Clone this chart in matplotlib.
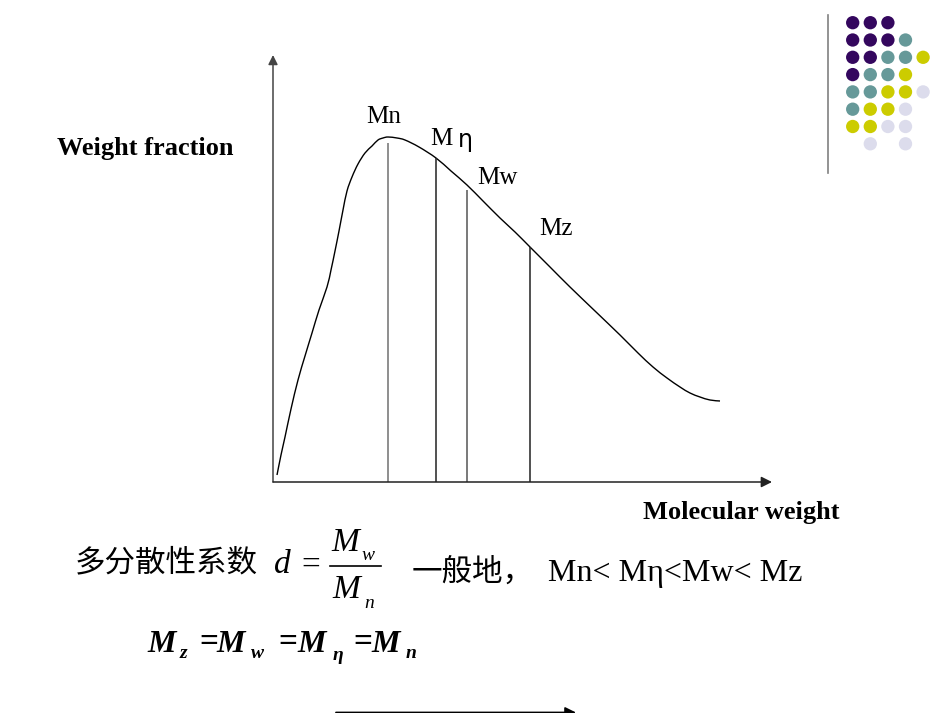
import numpy as np
import matplotlib.pyplot as plt
from matplotlib.path import Path
from matplotlib.patches import PathPatch

# distribution curve (x: molecular weight, y: weight fraction; arbitrary units)
mw = [4, 8, 12, 18, 25, 32, 39, 46, 54, 58, 62, 66, 70, 74, 79, 85, 92, 99, 105, 110, 115,
      124, 132, 146, 163, 178, 194, 210, 227, 242, 257, 277, 297, 322, 347, 365, 380, 394,
      407, 417, 427, 437, 447]
wf = [7, 27, 45, 73, 102, 126, 149, 172, 195, 212, 231, 251, 272, 291, 305, 318, 329, 336,
      342, 344, 345, 344, 342, 335, 324, 311, 297, 281, 264, 250, 235, 215, 195, 171, 147,
      129, 115, 104, 95, 89, 85, 82, 81]

# average molecular weights marked on the curve
avg_labels = ['Mn', 'M η', 'Mw', 'Mz']
avg_x = [115, 163, 194, 257]
avg_top = [339, 324, 292, 235]

# decorative dot grid (row, col, colour key)
dot_rows = [0, 0, 0,
            1, 1, 1, 1,
            2, 2, 2, 2, 2,
            3, 3, 3, 3,
            4, 4, 4, 4, 4,
            5, 5, 5, 5,
            6, 6, 6, 6,
            7, 7]
dot_cols = [0, 1, 2,
            0, 1, 2, 3,
            0, 1, 2, 3, 4,
            0, 1, 2, 3,
            0, 1, 2, 3, 4,
            0, 1, 2, 3,
            0, 1, 2, 3,
            1, 3]
dot_keys = 'PPP' 'PPPT' 'PPTTY' 'PTTY' 'TTYYL' 'TYYL' 'YYLL' 'LL'
dot_colors = {'P': '#34075e', 'T': '#669999', 'Y': '#cccc00', 'L': '#dcdcec'}

serif = 'Liberation Serif'
cjk = ['Noto Sans CJK SC', 'DejaVu Sans']


def smooth_path(xs, ys):
    # Catmull-Rom through the read points, drawn as cubic Bezier segments
    p = np.column_stack([xs, ys]).astype(float)
    verts = [p[0]]
    codes = [Path.MOVETO]
    for i in range(len(p) - 1):
        p0 = p[i - 1] if i > 0 else p[i]
        p3 = p[i + 2] if i + 2 < len(p) else p[i + 1]
        c1 = p[i] + (p[i + 1] - p0) / 6
        c2 = p[i + 1] - (p3 - p[i]) / 6
        verts += [c1, c2, p[i + 1]]
        codes += [Path.CURVE4] * 3
    return Path(verts, codes)


fig = plt.figure(figsize=(9.5, 7.13), dpi=100)

# page layer in pixel units
bg = fig.add_axes([0, 0, 1, 1])
bg.set_xlim(0, 950)
bg.set_ylim(713, 0)
bg.axis('off')

gx = 852.7 + 17.6 * np.array(dot_cols)
gy = 22.7 + 17.3 * np.array(dot_rows)
bg.scatter(gx, gy, s=92, c=[dot_colors[k] for k in dot_keys], linewidths=0)
bg.plot([828, 828], [15, 173], color='#808080', lw=1.2)

# chart area
ax = fig.add_axes([273 / 950, (713 - 482) / 713, 499 / 950, 427 / 713])
ax.set_xlim(0, 499)
ax.set_ylim(0, 427)
ax.axis('off')

ax.annotate('', xy=(0, 1), xytext=(0, 0), xycoords='axes fraction',
            arrowprops=dict(arrowstyle='-|>', color='#444444', lw=1.1, mutation_scale=14,
                            shrinkA=0, shrinkB=0))
ax.annotate('', xy=(1, 0), xytext=(0, 0), xycoords='axes fraction',
            arrowprops=dict(arrowstyle='-|>', color='#222222', lw=1.1, mutation_scale=16,
                            shrinkA=0, shrinkB=0))

ax.add_patch(PathPatch(smooth_path(mw, wf), facecolor='none', edgecolor='black', lw=1.0))
ax.vlines(avg_x, 0, avg_top, colors=['#707070', '#222222', '#555555', '#222222'], lw=1.1)

label_pos = [(366, 117), (430, 139), (477, 178), (539, 229)]
for lab, (px, py) in zip(avg_labels, label_pos):
    if 'η' in lab:
        bg.text(px, py, 'M', fontsize=18, family=serif, va='center', ha='left')
        bg.text(px + 28, py + 1, 'η', fontsize=17, family='DejaVu Sans', va='center', ha='left')
    else:
        bg.text(px, py, lab, fontsize=18, family=serif, va='center', ha='left')

bg.text(57, 149, 'Weight fraction', fontsize=19, family=serif, weight='bold',
        va='center', ha='left')
bg.text(643, 513, 'Molecular weight', fontsize=19, family=serif, weight='bold',
        va='center', ha='left')

# polydispersity line
bg.text(75, 563, '多分散性系数', fontsize=22, family=cjk, va='center', ha='left')
bg.text(274, 565, 'd', fontsize=24, family=serif, style='italic', va='center', ha='left')
bg.text(301, 566, '=', fontsize=24, family=serif, va='center', ha='left')
bg.text(331, 543, 'M', fontsize=24, family=serif, style='italic', va='center', ha='left')
bg.text(362, 556, 'w', fontsize=14, family=serif, style='italic', va='center', ha='left')
bg.plot([330, 381], [566, 566], color='black', lw=1.2)
bg.text(332, 590, 'M', fontsize=24, family=serif, style='italic', va='center', ha='left')
bg.text(364, 603, 'n', fontsize=14, family=serif, style='italic', va='center', ha='left')
bg.text(412, 572, '一般地，', fontsize=22, family=cjk, va='center', ha='left')
bg.text(548, 573, 'Mn< Mη<Mw< Mz', fontsize=23, family=serif, va='center', ha='left')

# ordering of the averages
eq_parts = [(147, 'M', 23, 644), (180, 'z', 14, 653), (199, '=', 24, 643),
            (216, 'M', 23, 644), (251, 'w', 14, 653), (278, '=', 24, 643),
            (297, 'M', 23, 644), (333, 'η', 14, 655), (353, '=', 24, 643),
            (371, 'M', 23, 644), (406, 'n', 14, 653)]
for px, s, fs, py in eq_parts:
    st = 'normal' if s == '=' else 'italic'
    bg.text(px, py, s, fontsize=fs, family=serif, weight='bold', style=st,
            va='center', ha='left')

bg.annotate('', xy=(576, 712.5), xytext=(336, 712.5), xycoords='data',
            arrowprops=dict(arrowstyle='-|>', color='black', lw=1.3, mutation_scale=16,
                            shrinkA=0, shrinkB=0))

fig.savefig('out.png', dpi=100)
